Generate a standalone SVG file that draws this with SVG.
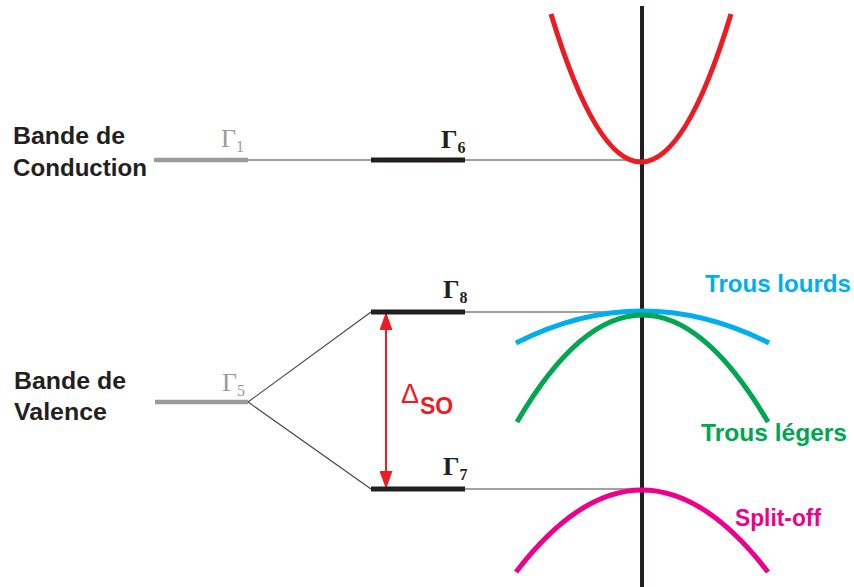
<svg xmlns="http://www.w3.org/2000/svg" width="854" height="587" viewBox="0 0 854 587">
<defs>
<style>
.lbl{font-family:"Liberation Sans",Arial,sans-serif;font-weight:bold;font-size:24px;}
.gam{font-family:"Liberation Serif","Times New Roman",serif;font-size:26px;}
.thin{stroke:#444;stroke-width:1.1;fill:none;}
.bar{stroke:#231F20;stroke-width:5;fill:none;}
.gbar{stroke:#9A9A9A;stroke-width:4.5;fill:none;}
.curve{fill:none;stroke-width:5;stroke-linecap:butt;}
</style>
<marker id="ah" viewBox="0 0 18 13" refX="17" refY="6.5" markerWidth="18" markerHeight="13" markerUnits="userSpaceOnUse" orient="auto-start-reverse">
<path d="M0,0 L18,6.5 L0,13 Z" fill="#ED1C24"/>
</marker>
</defs>
<rect width="854" height="587" fill="#fff"/>

<g id="connectors">
<line class="thin" x1="248" y1="160" x2="642" y2="160"/>
<line class="thin" x1="465" y1="312" x2="642" y2="312"/>
<line class="thin" x1="465" y1="489" x2="642" y2="489"/>
<line class="thin" x1="248" y1="402" x2="371" y2="312"/>
<line class="thin" x1="248" y1="402" x2="371" y2="489"/>
<line x1="386" y1="313" x2="386" y2="488" stroke="#ED1C24" stroke-width="2" marker-start="url(#ah)" marker-end="url(#ah)"/>
</g>

<g id="labels-left">
<text class="lbl" x="13" y="144" fill="#231F20" textLength="112" lengthAdjust="spacingAndGlyphs">Bande de</text>
<text class="lbl" x="13" y="176" fill="#231F20" textLength="134" lengthAdjust="spacingAndGlyphs">Conduction</text>
<text class="lbl" x="14" y="389" fill="#231F20" textLength="112" lengthAdjust="spacingAndGlyphs">Bande de</text>
<text class="lbl" x="14" y="420" fill="#231F20" textLength="93" lengthAdjust="spacingAndGlyphs">Valence</text>
</g>

<g id="gamma1">
<line class="gbar" x1="154" y1="160" x2="248" y2="160"/>
<text class="gam" x="221" y="147" fill="#9A9A9A">Γ<tspan dy="5" font-size="16">1</tspan></text>
</g>
<g id="gamma6">
<line class="bar" x1="371" y1="160" x2="465" y2="160"/>
<text class="gam" x="441" y="148" fill="#231F20" font-weight="bold">Γ<tspan dy="5" font-size="16">6</tspan></text>
</g>
<g id="gamma5">
<line class="gbar" x1="155" y1="402" x2="248" y2="402"/>
<text class="gam" x="222" y="391" fill="#9A9A9A">Γ<tspan dy="5" font-size="16">5</tspan></text>
</g>
<g id="gamma8">
<line class="bar" x1="371" y1="312" x2="465" y2="312"/>
<text class="gam" x="443" y="298" fill="#231F20" font-weight="bold">Γ<tspan dy="5" font-size="16">8</tspan></text>
</g>
<g id="gamma7">
<line class="bar" x1="371" y1="489" x2="465" y2="489"/>
<text class="gam" x="443" y="475" fill="#231F20" font-weight="bold">Γ<tspan dy="5" font-size="16">7</tspan></text>
</g>
<g id="delta-so">
<text x="401" y="403" font-family="'Liberation Sans',Arial,sans-serif" font-size="27" fill="#ED1C24">Δ<tspan x="420" y="414" font-size="23" font-weight="bold">SO</tspan></text>
</g>

<g id="axis">
<line x1="642" y1="6" x2="642" y2="587" stroke="#231F20" stroke-width="4"/>
</g>

<g id="conduction-band">
<path class="curve" stroke="#ED1C24" d="M551,14 Q641,310 731,14"/>
</g>
<g id="heavy-holes">
<path class="curve" stroke="#00AEEF" d="M516,343 Q642,279 769,343"/>
<text class="lbl" x="705" y="292" fill="#00AEEF" textLength="146" lengthAdjust="spacingAndGlyphs">Trous lourds</text>
</g>
<g id="light-holes">
<path class="curve" stroke="#00A651" d="M517,422 Q642,208 768,422"/>
<text class="lbl" x="701" y="441" fill="#00A651" textLength="146" lengthAdjust="spacingAndGlyphs">Trous légers</text>
</g>
<g id="split-off">
<path class="curve" stroke="#EC008C" d="M516,572 Q642,408 768,572"/>
<text class="lbl" x="735" y="526" fill="#EC008C" textLength="86" lengthAdjust="spacingAndGlyphs">Split-off</text>
</g>
</svg>
